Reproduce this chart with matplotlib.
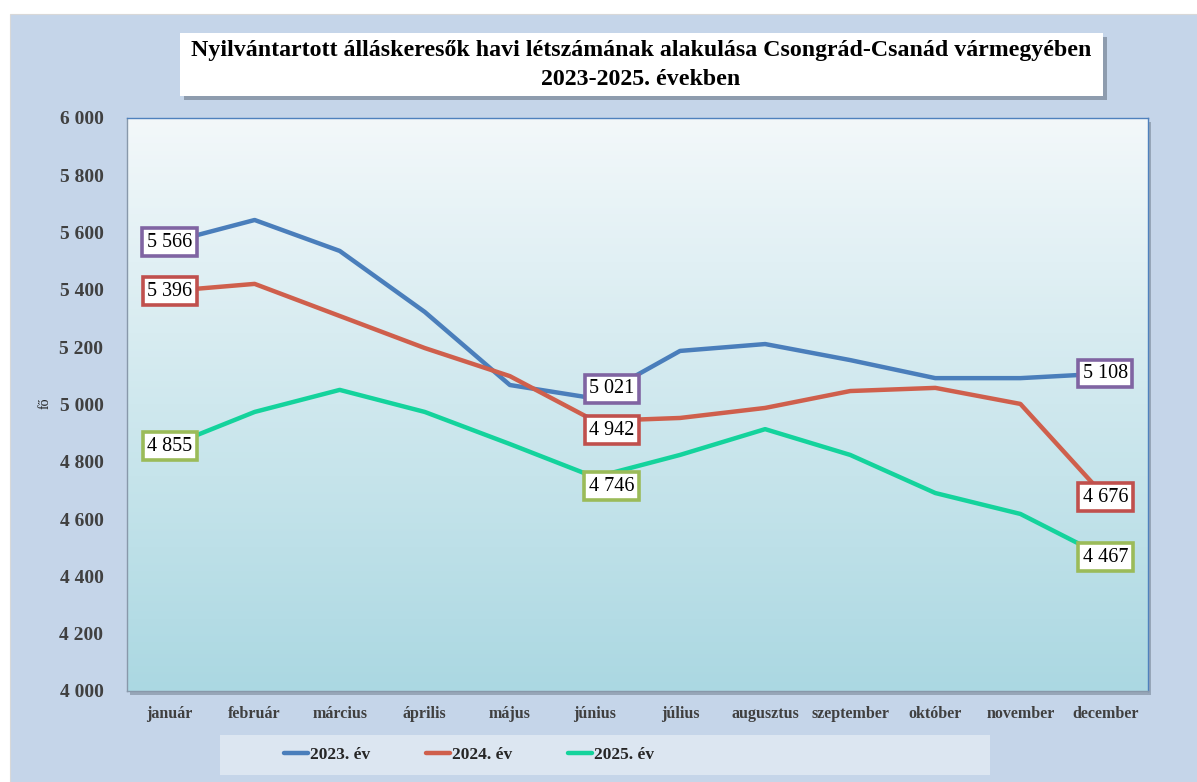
import matplotlib
matplotlib.use('Agg')
import matplotlib.pyplot as plt
from matplotlib.patches import Rectangle
import numpy as np

plt.rcParams['font.family'] = ['Liberation Serif', 'DejaVu Serif']

months = ['január', 'február', 'március', 'április', 'május', 'június',
          'július', 'augusztus', 'szeptember', 'október', 'november', 'december']
y2023 = [5566, 5644, 5536, 5323, 5068, 5021, 5187, 5211, 5155, 5092, 5092, 5108]
y2024 = [5396, 5421, 5309, 5197, 5099, 4942, 4953, 4988, 5047, 5058, 5002, 4676]
y2025 = [4855, 4974, 5051, 4974, 4862, 4746, 4824, 4914, 4824, 4691, 4618, 4467]
series_names = ['2023. év', '2024. év', '2025. év']
labelled = [0, 5, 11]
yticks = [4000, 4200, 4400, 4600, 4800, 5000, 5200, 5400, 5600, 5800, 6000]

title = ('Nyilvántartott álláskeresők havi létszámának alakulása Csongrád-Csanád vármegyében\n'
         '2023-2025. években')

line_colors = ['#4a7ebb', '#cf5f4c', '#14d39c']
box_colors = ['#8064a2', '#c0504d', '#9bbb59']
# june labels are nudged off the point (points)
june_offset = [(12, 7), (12, -6.5), (12, -6.5)]

W, H = 1197, 782
fig = plt.figure(figsize=(W / 100, H / 100), dpi=100, facecolor='white')

def fx(px):
    return px / W

def fy(py):
    return 1 - py / H

# outer chart area
fig.patches.append(Rectangle((fx(10), 0), 1, fy(14), transform=fig.transFigure,
                             facecolor='#c5d5e9', edgecolor='#d8d8d8', lw=0.8, zorder=0))

# title box with shadow
fig.patches.append(Rectangle((fx(184), fy(100)), fx(923), fy(33) - fy(96),
                             transform=fig.transFigure, facecolor='#8e9cae',
                             edgecolor='none', zorder=1))
fig.patches.append(Rectangle((fx(180), fy(96)), fx(923), fy(33) - fy(96),
                             transform=fig.transFigure, facecolor='white',
                             edgecolor='none', zorder=2))
fig.text(fx(641), fy(65), title, ha='center', va='center', fontsize=17.2,
         fontweight='bold', color='black', linespacing=1.45, zorder=3)

# legend box
fig.patches.append(Rectangle((fx(220), fy(775)), fx(770), fy(735) - fy(775),
                             transform=fig.transFigure, facecolor='#dce6f1',
                             edgecolor='none', zorder=1))

ax_l, ax_r, ax_t, ax_b = 127, 1148, 118, 691
# plot area shadow
fig.patches.append(Rectangle((fx(ax_l + 3), fy(ax_b + 4)), fx(ax_r - ax_l), fy(ax_t) - fy(ax_b),
                             transform=fig.transFigure, facecolor='#97a6b8',
                             edgecolor='none', zorder=1))
ax = fig.add_axes([fx(ax_l), fy(ax_b), fx(ax_r - ax_l), fy(ax_t) - fy(ax_b)])
ax.set_zorder(2)

# gradient background
top = np.array([0xf3, 0xf8, 0xfa]) / 255
bot = np.array([0xab, 0xd8, 0xe2]) / 255
t = np.linspace(0, 1, 256)[:, None]
grad = (top * (1 - t) + bot * t)[:, None, :]
ax.imshow(grad, extent=[0, 1, 0, 1], transform=ax.transAxes, aspect='auto',
          zorder=0, interpolation='bilinear')

all_series = [y2023, y2024, y2025]
lines = []
for vals, c, name in zip(all_series, line_colors, series_names):
    ln, = ax.plot(months, vals, color=c, lw=3.2, solid_joinstyle='round',
                  solid_capstyle='round', label=name, zorder=3)
    lines.append(ln)

for k, (vals, bc) in enumerate(zip(all_series, box_colors)):
    for i in labelled:
        off = june_offset[k] if i == 5 else (0, 0)
        ax.annotate(f'{vals[i]:,}'.replace(',', ' '), (months[i], vals[i]),
                    xytext=off, textcoords='offset points', ha='center', va='center',
                    fontsize=14.5, color='black', zorder=5,
                    bbox=dict(boxstyle='square,pad=0.22', facecolor='white',
                              edgecolor=bc, linewidth=2.6))

ax.set_xlim(-0.5, len(months) - 0.5)
ax.set_ylim(4000, 6000)
ax.set_yticks(yticks)
ax.set_yticklabels([f'{v:,}'.replace(',', ' ') for v in yticks])
ax.tick_params(axis='y', length=0, pad=17, labelsize=14, labelcolor='#404040')
ax.tick_params(axis='x', length=0, pad=11, labelsize=11.5, labelcolor='#404040')
for lab in ax.get_xticklabels() + ax.get_yticklabels():
    lab.set_fontweight('bold')
for s in ['top', 'right']:
    ax.spines[s].set_color('#4f81bd')
for s in ['left', 'bottom']:
    ax.spines[s].set_color('#8898aa')
for s in ax.spines.values():
    s.set_linewidth(1.0)

fig.text(fx(45), fy(403), 'fő', rotation=90, ha='center', va='center',
         fontsize=10, color='#202020')

leg = fig.legend(handles=lines, loc='center', bbox_to_anchor=(fx(469), fy(755)),
                 ncol=3, frameon=False, handlelength=1.4, handletextpad=0.1,
                 columnspacing=3.2, prop={'weight': 'bold', 'size': 12.5})
for txt in leg.get_texts():
    txt.set_color('#262626')
leg.set_zorder(3)

fig.savefig('out.png', dpi=100, facecolor=fig.get_facecolor())
